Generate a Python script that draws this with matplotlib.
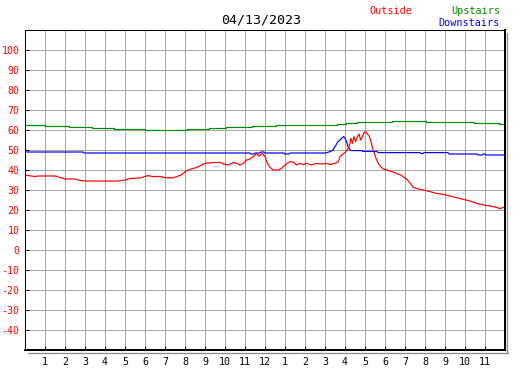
import matplotlib
matplotlib.use("Agg")
import matplotlib.pyplot as plt
from matplotlib.lines import Line2D

# ---------------- data ----------------
title = "04/13/2023"
x_ticks = list(range(1, 24))
x_tick_labels = [str(i) for i in range(1, 13)] + [str(i) for i in range(1, 12)]
y_ticks = list(range(-40, 101, 10))

outside_hours = [0.0, 0.5, 0.65, 1.55, 1.75, 2.0, 2.5, 2.65, 3.0, 4.75, 5.0, 5.25, 5.75,
                 6.15, 6.4, 6.75, 7.0, 7.35, 7.6, 7.85, 8.05, 8.25, 8.58, 8.83, 9.0,
                 9.33, 9.75, 9.92, 10.17, 10.42, 10.58, 10.75, 10.92, 11.08, 11.25,
                 11.45, 11.58, 11.7, 11.8, 11.88, 12.0, 12.12, 12.25, 12.42, 12.67,
                 12.83, 13.0, 13.25, 13.42, 13.58, 13.75, 13.92, 14.08, 14.33, 14.58,
                 14.83, 15.08, 15.25, 15.5, 15.67, 15.75, 15.83, 16.0, 16.17, 16.25,
                 16.3, 16.37, 16.45, 16.53, 16.62, 16.7, 16.78, 16.87, 16.95, 17.03,
                 17.12, 17.22, 17.3, 17.38, 17.47, 17.55, 17.67, 17.78, 17.92, 18.12,
                 18.33, 18.58, 18.83, 19.08, 19.25, 19.42, 19.67, 19.92, 20.25, 20.58,
                 20.92, 21.25, 21.58, 21.92, 22.25, 22.58, 22.92, 23.25, 23.58, 23.75,
                 23.92]
outside_temp = [37.5, 36.7, 37.0, 37.0, 36.3, 35.5, 35.5, 35.0, 34.5, 34.5, 35.0, 35.8, 36.0,
                37.2, 36.7, 36.8, 36.2, 36.0, 36.7, 37.8, 39.5, 40.3, 41.3, 42.5, 43.3,
                43.7, 43.8, 43.0, 42.5, 43.8, 43.3, 42.5, 43.3, 45.0, 45.5,
                47.0, 48.3, 47.0, 47.8, 48.3, 46.7, 43.3, 41.3, 40.0, 40.0,
                40.8, 42.5, 44.2, 44.0, 42.5, 43.3, 42.7, 43.3, 42.5, 43.3,
                43.0, 43.3, 42.8, 43.3, 44.2, 46.7, 47.5, 48.7, 50.8, 53.3,
                55.8, 53.3, 56.7, 54.2, 56.7, 58.0, 55.0, 56.7, 58.7, 59.2,
                58.0, 56.7, 54.2, 50.8, 48.3, 45.8, 43.3, 41.7, 40.5, 40.0,
                39.2, 38.3, 37.2, 35.5, 33.5, 31.3, 30.5, 30.0, 29.2, 28.3,
                27.8, 27.0, 26.2, 25.3, 24.5, 23.3, 22.5, 22.0, 21.3, 20.7,
                21.3]

upstairs_hours = [0.0, 1.0, 2.2, 3.35, 4.45, 6.0, 8.1, 9.2, 10.05, 11.35, 12.55,
                  15.6, 16.05, 16.6, 18.35, 20.05, 22.45, 23.7, 23.95]
upstairs_temp = [62.5, 62.0, 61.5, 61.0, 60.5, 60.0, 60.5, 61.0, 61.5, 62.0, 62.5,
                 63.0, 63.5, 64.0, 64.5, 64.0, 63.5, 63.0, 63.0]

downstairs_hours = [0.0, 2.9, 2.95, 11.25, 11.3, 11.45, 11.5, 11.75, 11.8, 11.95, 12.0,
                    12.95, 13.0, 13.2, 13.25, 15.0, 15.1, 15.25, 15.4, 15.55, 15.65,
                    15.85, 15.93, 16.0, 16.1, 16.15, 16.25, 16.35, 16.85, 16.9, 17.6,
                    17.65, 19.75, 19.8, 19.9, 19.95, 21.15, 21.2, 22.6, 22.65, 22.85,
                    22.9, 23.0, 23.05, 23.95]
downstairs_temp = [49.0, 49.0, 48.5, 48.5, 48.0, 48.0, 48.5, 48.5, 49.0, 49.0, 48.5,
                   48.5, 48.0, 48.0, 48.5, 48.5, 48.7, 49.2, 50.0, 52.5, 54.2,
                   56.0, 56.7, 56.0, 53.5, 51.5, 50.0, 49.7, 49.7, 49.3, 49.3,
                   48.7, 48.7, 48.2, 48.2, 48.7, 48.7, 48.0, 48.0, 47.5, 47.5,
                   48.0, 48.0, 47.5, 47.5]

# ---------------- figure ----------------
W, H = 527, 370
fig = plt.figure(figsize=(W / 100, H / 100), dpi=100)
L, R, T, B = 25, 505, 30, 350
ax = fig.add_axes([L / W, (H - B) / H, (R - L) / W, (B - T) / H])

mono = "DejaVu Sans Mono"
px = 0.72  # one pixel in points

ax.set_xlim(0, 24)
ax.set_ylim(-50, 110)

# grid
for xv in range(1, 24):
    ax.axvline(xv, color="#a6a6a6", lw=1.0 * px, zorder=1)
for yv in range(-40, 110, 10):
    ax.axhline(yv, color="#a6a6a6", lw=1.0 * px, zorder=1)

ax.plot(upstairs_hours, upstairs_temp, color="#008c00", lw=1.2 * px, zorder=3,
        drawstyle="steps-post")
ax.plot(downstairs_hours, downstairs_temp, color="#0000ff", lw=1.2 * px, zorder=3)
ax.plot(outside_hours, outside_temp, color="#ff0000", lw=1.2 * px, zorder=4)

ax.set_xticks(x_ticks)
ax.set_xticklabels(x_tick_labels, fontfamily=mono, fontsize=7.2, color="black")
ax.set_yticks(y_ticks)
ax.set_yticklabels([str(v) for v in y_ticks], fontfamily=mono, fontsize=7.2, color="#ff0000")
ax.tick_params(axis="both", direction="in", length=3, width=1.0 * px, color="black")
ax.tick_params(axis="x", pad=5)
ax.tick_params(axis="y", pad=4)

for s in ["left", "top"]:
    ax.spines[s].set_linewidth(1.0 * px)
    ax.spines[s].set_color("black")
for s in ["right", "bottom"]:
    ax.spines[s].set_linewidth(2.0 * px)
    ax.spines[s].set_color("black")
    ax.spines[s].set_zorder(6)

# drop shadow on right/bottom
def fx(x):
    return x / W
def fy(y):
    return 1 - y / H
fig.add_artist(Line2D([fx(507), fx(507)], [fy(33), fy(352.5)], color="#8c8c8c", lw=1.3 * px))
fig.add_artist(Line2D([fx(28), fx(507.5)], [fy(352.5), fy(352.5)], color="#8c8c8c", lw=1.3 * px))

fig.text(fx(261), fy(20), title, ha="center", va="center", fontfamily=mono,
         fontsize=9.6, color="black")
fig.text(fx(369), fy(11), "Outside", ha="left", va="center", fontfamily=mono,
         fontsize=7.3, color="#ff0000")
fig.text(fx(500), fy(11), "Upstairs", ha="right", va="center", fontfamily=mono,
         fontsize=7.3, color="#008c00")
fig.text(fx(500), fy(23), "Downstairs", ha="right", va="center", fontfamily=mono,
         fontsize=7.3, color="#0000ff")

fig.savefig("out.png", dpi=100, facecolor="white")
